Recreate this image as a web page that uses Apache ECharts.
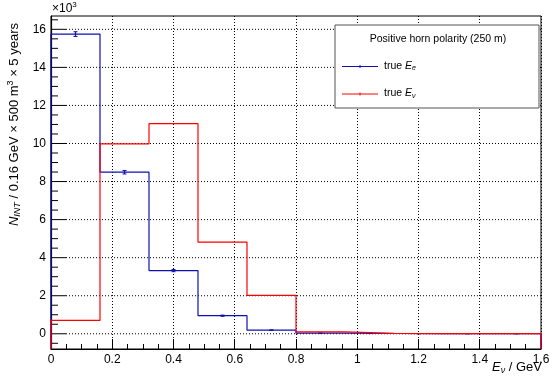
<!DOCTYPE html>
<html><head><meta charset="utf-8">
<script src="https://cdn.jsdelivr.net/npm/echarts@6/dist/echarts.min.js"></script>
<style>html,body{margin:0;padding:0;background:#fff}#c{width:553px;height:387px}</style>
</head><body><div id="c"></div>
<script>
// ---- data (values in units of 10^3) ----
const binEdges = [0, 0.16, 0.32, 0.48, 0.64, 0.80, 0.96, 1.12, 1.28, 1.44, 1.60];
const blueValues = [15.75, 8.49, 3.32, 0.95, 0.19, 0.03, 0.015, 0.008, 0.004, 0.002];
const blueErrors = [0.125, 0.092, 0.058, 0.031, 0.014, 0.006, 0.004, 0.003, 0.002, 0.0015];
const redValues = [0.70, 9.98, 11.04, 4.82, 2.02, 0.10, 0.02, 0.01, 0.005, 0.003];
const yTickLabels = [0, 2, 4, 6, 8, 10, 12, 14, 16];
const yMinorTicks = [-0.5, 0.5, 1, 1.5, 2.5, 3, 3.5, 4.5, 5, 5.5, 6.5, 7, 7.5, 8.5, 9, 9.5,
  10.5, 11, 11.5, 12.5, 13, 13.5, 14.5, 15, 15.5, 16.5];
const xTickLabels = [0, 0.2, 0.4, 0.6, 0.8, 1, 1.2, 1.4, 1.6];
const yMin = -0.8, yMax = 16.7;
const seriesNames = ['true E_e', 'true E_ν'];

const BLUE = '#1010b0', RED = '#ff0000';
const FONT = 'Liberation Sans, Arial, Helvetica, sans-serif';

function stepPoints(vals) {
  const pts = [[binEdges[0], yMin]];
  vals.forEach((v, i) => { pts.push([binEdges[i], v]); pts.push([binEdges[i + 1], v]); });
  pts.push([binEdges[vals.length], yMin]);
  return pts;
}

const chart = echarts.init(document.getElementById('c'), null, {renderer: 'canvas'});
const option = {
  animation: false,
  backgroundColor: '#fff',
  grid: {left: 51, right: 12, top: 16, bottom: 38, show: true, borderColor: '#000', borderWidth: 1, backgroundColor: 'transparent'},
  xAxis: {
    type: 'value', min: 0, max: 1.6, interval: 0.2,
    axisLine: {onZero: false, lineStyle: {color: '#000', width: 1.2}},
    axisTick: {inside: true, length: 10, lineStyle: {color: '#000'}},
    minorTick: {show: true, splitNumber: 4, length: 5, lineStyle: {color: '#000'}},
    axisLabel: {color: '#000', fontSize: 12, fontFamily: FONT, margin: 5,
      formatter: v => { const i = xTickLabels.findIndex(t => Math.abs(t - v) < 1e-6); return i >= 0 ? String(xTickLabels[i]) : ''; }},
    splitLine: {show: true, lineStyle: {color: '#000', type: [1, 2], width: 1}}
  },
  yAxis: {
    type: 'value', min: yMin, max: yMax,
    axisLine: {show: true, onZero: false, lineStyle: {color: '#000', width: 1.2}},
    axisTick: {show: false},
    minorTick: {show: false},
    splitLine: {show: false},
    axisLabel: {customValues: yTickLabels, color: '#000', fontSize: 12, fontFamily: FONT, margin: 5}
  },
  series: [
    {
      type: 'custom', name: 'yticks', silent: true, clip: false, z: 1,
      data: yTickLabels.map(v => [0, v, 1]).concat(yMinorTicks.map(v => [0, v, 0])),
      renderItem: function (params, api) {
        const cs = params.coordSys;
        const y = api.coord([0, api.value(1)])[1];
        const major = api.value(2) === 1;
        const children = [{
          type: 'line', shape: {x1: cs.x, y1: y, x2: cs.x + (major ? 15 : 7), y2: y},
          style: {stroke: '#000', lineWidth: 1}
        }];
        if (major) {
          children.push({
            type: 'line', shape: {x1: cs.x + 15, y1: y, x2: cs.x + cs.width, y2: y},
            style: {stroke: '#000', lineWidth: 1, lineDash: [1, 2]}
          });
        }
        return {type: 'group', children: children};
      }
    },
    {
      type: 'line', name: seriesNames[0], data: stepPoints(blueValues), showSymbol: false,
      lineStyle: {color: BLUE, width: 1.2}, z: 3
    },
    {
      type: 'custom', name: 'errors', z: 4,
      data: blueValues.map((v, i) => [(binEdges[i] + binEdges[i + 1]) / 2, v, blueErrors[i]]),
      renderItem: function (params, api) {
        const x = api.value(0), v = api.value(1), e = api.value(2);
        const top = api.coord([x, v + e]);
        const bot = api.coord([x, v - e]);
        return {type: 'group', children: [
          {type: 'line', shape: {x1: top[0], y1: top[1], x2: bot[0], y2: bot[1]}, style: {stroke: BLUE, lineWidth: 1.2}},
          {type: 'line', shape: {x1: top[0] - 2, y1: top[1], x2: top[0] + 2, y2: top[1]}, style: {stroke: BLUE, lineWidth: 1}},
          {type: 'line', shape: {x1: bot[0] - 2, y1: bot[1], x2: bot[0] + 2, y2: bot[1]}, style: {stroke: BLUE, lineWidth: 1}}
        ]};
      }
    },
    {
      type: 'line', name: seriesNames[1], data: stepPoints(redValues), showSymbol: false,
      lineStyle: {color: RED, width: 1.2}, z: 5
    }
  ],
  graphic: [
    {type: 'text', left: 52, top: 1, style: {
      text: '×10{sup|3}', font: '12px ' + FONT, fill: '#000',
      rich: {sup: {fontSize: 8, fontFamily: FONT, padding: [0, 0, 7, 0]}}}},
    {type: 'text', x: 14, y: 23, rotation: Math.PI / 2, style: {
      text: '{i|N}{sub|INT} / 0.16 GeV × 500 m{sup|3} × 5 years', font: '13px ' + FONT, fill: '#000',
      align: 'right', verticalAlign: 'middle',
      rich: {
        i: {fontStyle: 'italic', fontSize: 13, fontFamily: FONT},
        sub: {fontStyle: 'italic', fontSize: 9, fontFamily: FONT, padding: [6, 0, 0, 0]},
        sup: {fontSize: 9, fontFamily: FONT, padding: [0, 0, 7, 0]}
      }}},
    {type: 'text', right: 11, top: 361, style: {
      text: '{i|E}{sub|ν} / GeV', font: '13px ' + FONT, fill: '#000',
      rich: {
        i: {fontStyle: 'italic', fontSize: 13, fontFamily: FONT},
        sub: {fontStyle: 'italic', fontSize: 9, fontFamily: FONT, padding: [6, 0, 0, 0]}
      }}},
    // legend box
    {type: 'rect', shape: {x: 335, y: 25, width: 204, height: 83},
      style: {fill: '#fff', stroke: '#555', lineWidth: 1}, z: 100},
    {type: 'text', x: 438, y: 39, z: 101, style: {
      text: 'Positive horn polarity (250 m)', font: '10.5px ' + FONT, fill: '#000', align: 'center', verticalAlign: 'middle'}},
    {type: 'line', shape: {x1: 342, y1: 66.5, x2: 378, y2: 66.5}, style: {stroke: BLUE, lineWidth: 1.2}, z: 101},
    {type: 'line', shape: {x1: 360, y1: 65, x2: 360, y2: 68}, style: {stroke: BLUE, lineWidth: 1}, z: 101},
    {type: 'text', x: 384, y: 66, z: 101, style: {
      text: 'true {i|E}{sub|e}', font: '10.5px ' + FONT, fill: '#000', verticalAlign: 'middle',
      rich: {i: {fontStyle: 'italic', fontSize: 10.5, fontFamily: FONT},
             sub: {fontStyle: 'italic', fontSize: 7, fontFamily: FONT, padding: [5, 0, 0, 0]}}}},
    {type: 'line', shape: {x1: 342, y1: 94, x2: 378, y2: 94}, style: {stroke: RED, lineWidth: 1.2}, z: 101},
    {type: 'line', shape: {x1: 360, y1: 92.5, x2: 360, y2: 95.5}, style: {stroke: RED, lineWidth: 1}, z: 101},
    {type: 'text', x: 384, y: 93.5, z: 101, style: {
      text: 'true {i|E}{sub|ν}', font: '10.5px ' + FONT, fill: '#000', verticalAlign: 'middle',
      rich: {i: {fontStyle: 'italic', fontSize: 10.5, fontFamily: FONT},
             sub: {fontStyle: 'italic', fontSize: 7, fontFamily: FONT, padding: [5, 0, 0, 0]}}}}
  ]
};
chart.setOption(option);
</script>
</body></html>
